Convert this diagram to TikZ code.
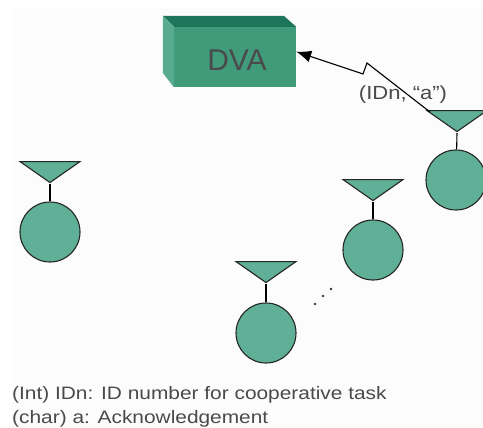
\documentclass[tikz,border=0pt]{standalone}
\usepackage{fontspec}
\setmainfont{Liberation Sans}
\newfontfamily\widefont[FakeStretch=1.16]{Liberation Sans}
\usepackage{tikz}
\usetikzlibrary{shapes.geometric,arrows.meta}

\definecolor{stationgreen}{HTML}{5FB096}
\definecolor{boxfront}{HTML}{409B7B}
\definecolor{boxtop}{HTML}{1F7559}
\definecolor{boxleft}{HTML}{58AB90}
\definecolor{paper}{HTML}{FCFCFC}
\definecolor{inkgray}{HTML}{4A4A4A}

\tikzset{
    station/.style={draw=black!85,fill=stationgreen,circle,line width=1.1pt,
      minimum size=60pt,inner sep=0pt},
    antenna/.style={draw=black!85,fill=stationgreen,isosceles triangle,
      isosceles triangle stretches,shape border rotate=-90,line width=1.1pt,
      minimum width=60pt,minimum height=21pt,inner sep=0pt,anchor=apex},
    caption/.style={anchor=west,inner sep=0pt,text=inkgray,font=\widefont\fontsize{18}{20}\selectfont},
    dotmark/.style={circle,fill=black!80,inner sep=0pt,minimum size=2.6pt}
}

\begin{document}
\begin{tikzpicture}[x=1pt,y=-1pt]
    \clip (0,0) rectangle (483,428);
    \fill[paper] (12,8) rectangle (483,428);

    \node[fill=boxfront,minimum width=122pt,minimum height=60pt,inner sep=0pt] (dva) at (235,57) {};
    \fill[boxtop] (dva.north west) -- ++(-11,-11) -- ++(121,0) -- (dva.north east) -- cycle;
    \fill[boxleft] (dva.north west) -- ++(-11,-11) -- ++(0,57) -- (dva.south west) -- cycle;
    \node[text=inkgray,font=\fontsize{30}{32}\selectfont] at (237,60) {DVA};

    \node[antenna] (ant1) at (50,184) {};
    \node[station] (st1) at (50,232) {};
    \draw[line width=1.1pt] (ant1.apex) -- (st1);

    \node[antenna] (ant2) at (266,284) {};
    \node[station] (st2) at (266,333) {};
    \draw[line width=1.1pt] (ant2.apex) -- (st2);

    \node[antenna] (ant3) at (373,202) {};
    \node[station] (st3) at (373,250) {};
    \draw[line width=1.1pt] (ant3.apex) -- (st3);

    \node[antenna] (ant4) at (457,133) {};
    \node[station] (st4) at (456,180) {};
    \draw[line width=1.1pt] (ant4.apex) -- (st4);

    \node[dotmark] at (315,304) {};
    \node[dotmark] at (323,296) {};
    \node[dotmark] at (331,289) {};

    \coordinate (kink1) at (367,63);
    \coordinate (kink2) at (363,74);
    \coordinate (ant4in) at (430,112);
    \draw[line width=1.1pt,-{Latex[length=15pt,width=12pt]}] (ant4in) -- (kink1) -- (kink2) -- (dva.5);

    \node[text=inkgray,font=\widefont\fontsize{19}{21}\selectfont] at (403,95) {(IDn, “a”)};

    \node[caption] at (12,395) {(Int) IDn: ID number for cooperative task};
    \node[caption] at (12,419) {(char) a: Acknowledgement};
\end{tikzpicture}
\end{document}
